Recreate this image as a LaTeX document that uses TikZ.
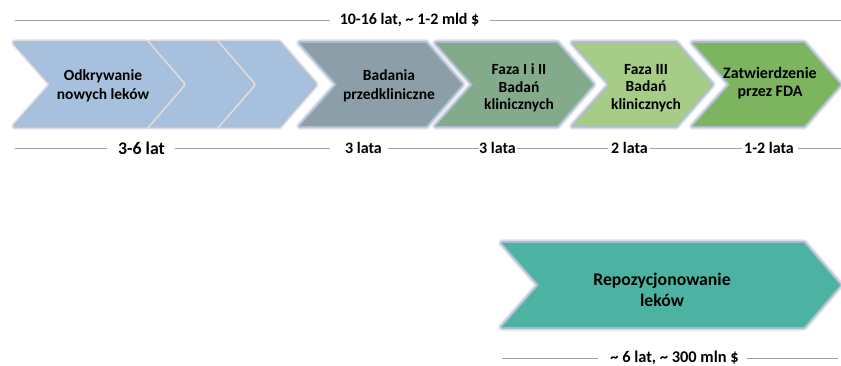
\documentclass[tikz,border=0pt]{standalone}
\usepackage{fontspec}
\setmainfont{Carlito}
\definecolor{cblue}{RGB}{167,192,222}
\definecolor{cgrey}{RGB}{140,159,168}
\definecolor{cfaza}{RGB}{132,170,140}
\definecolor{cfazb}{RGB}{166,204,136}
\definecolor{cfda}{RGB}{124,180,96}
\definecolor{crepo}{RGB}{76,179,162}
\definecolor{glowa}{RGB}{215,222,233}
\definecolor{glowb}{RGB}{176,189,207}
\definecolor{linec}{RGB}{160,160,160}
\newcommand{\chevshape}[5]{% x0, tip, top, bottom, color
  \pgfmathsetmacro{\cmid}{(#3+#4)/2}
  \draw[glowa,line width=7pt,line join=round]
    (#1,#3) -- ({#2-36},#3) -- (#2,\cmid) -- ({#2-36},#4) -- (#1,#4) -- ({#1+37},\cmid) -- cycle;
  \draw[glowb,line width=3.5pt,line join=round]
    (#1,#3) -- ({#2-36},#3) -- (#2,\cmid) -- ({#2-36},#4) -- (#1,#4) -- ({#1+37},\cmid) -- cycle;
  \fill[#5]
    (#1,#3) -- ({#2-36},#3) -- (#2,\cmid) -- ({#2-36},#4) -- (#1,#4) -- ({#1+37},\cmid) -- cycle;
}
\begin{document}
\begin{tikzpicture}[x=1pt,y=-1pt,
  lbl/.style={font=\bfseries\fontsize{15.5}{18.5}\selectfont,align=center,inner sep=0pt},
  tl/.style={font=\bfseries\fontsize{16}{19}\selectfont,inner sep=0pt},
  rule/.style={linec,line width=0.8pt}]
\useasboundingbox (0,0) rectangle (841,366);
% top row chevrons
\chevshape{218}{315}{43}{126}{cblue}
\chevshape{150}{252}{43}{126}{cblue}
\chevshape{15}{182}{43}{126}{cblue}
\chevshape{300}{462}{43}{126}{cgrey}
\chevshape{436}{593}{43}{126}{cfaza}
\chevshape{573}{712}{43}{126}{cfazb}
\chevshape{693}{840}{43}{126}{cfda}
\chevshape{502}{840}{243}{327}{crepo}
% labels in chevrons
\node[lbl] (odk) at (103,86) {Odkrywanie\\nowych leków};
\node[lbl] (bad) at (389,86) {Badania\\przedkliniczne};
\node[lbl,font=\bfseries\fontsize{15.5}{17.5}\selectfont] (f12) at (519,88) {Faza I i II\\Badań\\klinicznych};
\node[lbl,font=\bfseries\fontsize{15.5}{17.5}\selectfont] (f3) at (646,88) {Faza III\\Badań\\klinicznych};
\node[lbl,font=\bfseries\fontsize{16}{18.5}\selectfont] (fda) at (770,83) {Zatwierdzenie\\przez FDA};
\node[lbl,font=\bfseries\fontsize{17.7}{21}\selectfont] (repo) at (662,290) {Repozycjonowanie\\leków};
% top timeline
\node[tl] (tot) at (409.5,20) {10-16 lat, \textasciitilde{} 1-2 mld \$};
\coordinate (tl0) at (15,20);
\coordinate (tl1) at (841,20);
\draw[rule] (tl0) -- ([xshift=-10pt]tot.west);
\draw[rule] ([xshift=11pt]tot.east) -- (tl1);
% bottom timeline
\node[tl,font=\bfseries\fontsize{17.8}{20}\selectfont] (d1) at (141.5,148) {3-6 lat};
\node[tl] (d2) at (363.5,148) {3 lata};
\node[tl] (d3) at (497.5,148) {3 lata};
\node[tl] (d4) at (629.5,148) {2 lata};
\node[tl] (d5) at (769,148) {1-2 lata};
\coordinate (b0) at (15,148);
\coordinate (b1) at (841,148);
\draw[rule] (b0) -- ([xshift=-11pt]d1.west);
\draw[rule] ([xshift=10pt]d1.east) -- ([xshift=-15pt]d2.west);
\draw[rule] ([xshift=6pt]d2.east) -- (d3.west);
\draw[rule] ([xshift=1pt]d3.east) -- ([xshift=-3pt]d4.west);
\draw[rule] ([xshift=2pt]d4.east) -- ([xshift=-2pt]d5.west);
\draw[rule] ([xshift=4pt]d5.east) -- (b1);
% repositioning timeline
\node[tl,font=\bfseries\fontsize{16.4}{19}\selectfont] (rt) at (674.5,358) {\textasciitilde{} 6 lat, \textasciitilde{} 300 mln \$};
\coordinate (r0) at (502,358);
\coordinate (r1) at (838,358);
\draw[rule] (r0) -- ([xshift=-12pt]rt.west);
\draw[rule] ([xshift=8pt]rt.east) -- (r1);
\end{tikzpicture}
\end{document}
